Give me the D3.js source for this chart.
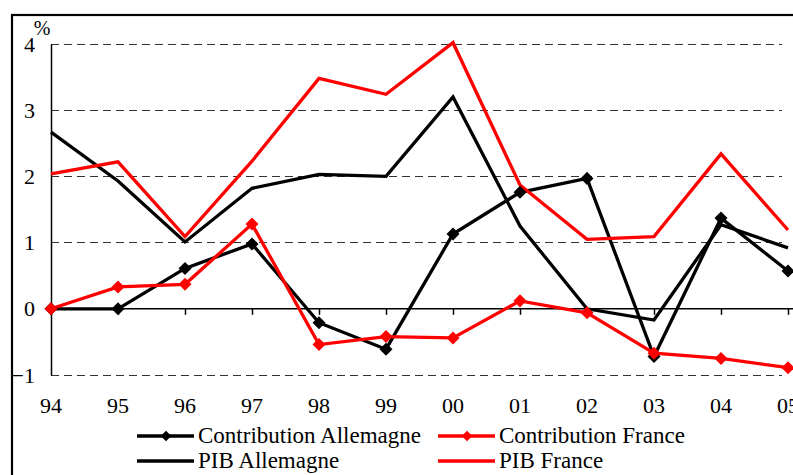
<!DOCTYPE html>
<html>
<head>
<meta charset="utf-8">
<script src="https://cdn.jsdelivr.net/npm/d3@7"></script>
<style>
  html, body { margin: 0; padding: 0; background: #fff; }
  svg { display: block; }
  text { font-family: "Liberation Serif", "Times New Roman", serif; fill: #000; }
</style>
</head>
<body>
<svg id="chart" width="793" height="475"></svg>
<script>
const years = ["94","95","96","97","98","99","00","01","02","03","04","05"];
const yTicks = [-1, 0, 1, 2, 3, 4];
const contribAllemagne = [0.0, 0.0, 0.61, 0.98, -0.21, -0.61, 1.13, 1.76, 1.97, -0.72, 1.37, 0.57];
const contribFrance    = [0.0, 0.33, 0.37, 1.28, -0.54, -0.42, -0.44, 0.12, -0.06, -0.67, -0.75, -0.89];
const pibAllemagne     = [2.67, 1.93, 1.01, 1.82, 2.03, 2.0, 3.2, 1.25, 0.0, -0.17, 1.27, 0.92];
const pibFrance        = [2.04, 2.22, 1.09, 2.23, 3.48, 3.24, 4.02, 1.87, 1.05, 1.09, 2.34, 1.19];

const series = [
  { name: "Contribution Allemagne", values: contribAllemagne, color: "#000000", marker: true },
  { name: "Contribution France", values: contribFrance, color: "#ff0000", marker: true },
  { name: "PIB Allemagne", values: pibAllemagne, color: "#000000", marker: false },
  { name: "PIB France", values: pibFrance, color: "#ff0000", marker: false }
];

const FONT = "Liberation Serif";
const svg = d3.select("#chart");
const x = d3.scaleLinear().domain([0, years.length - 1]).range([51, 788]);
const y = d3.scaleLinear().domain([-1, 4]).range([375, 44]);
const plotRight = 782;

// outer frame
svg.append("rect").attr("x", 12).attr("y", 15).attr("width", 800).attr("height", 500)
  .attr("fill", "none").attr("stroke", "#000").attr("stroke-width", 2.2);

// gridlines
svg.append("g").selectAll("line").data(yTicks.filter(v => v !== 0)).join("line")
  .attr("x1", x(0)).attr("x2", plotRight)
  .attr("y1", d => y(d)).attr("y2", d => y(d))
  .attr("stroke", "#333").attr("stroke-width", 1).attr("stroke-dasharray", "8,5")
  .attr("shape-rendering", "crispEdges");

// y axis
const yAxis = d3.axisLeft(y).tickValues(yTicks).tickSize(0).tickPadding(16).tickFormat(d3.format("d"));
const gy = svg.append("g").attr("transform", `translate(${x(0)},0)`).call(yAxis)
  .attr("font-family", FONT);
gy.select(".domain").attr("stroke", "#000").attr("stroke-width", 1.5);
gy.selectAll("text").attr("font-family", FONT).style("font-size", "22px").attr("fill", "#000");

// percent sign
svg.append("text").attr("x", 42).attr("y", 35).attr("text-anchor", "middle")
  .attr("font-family", FONT).style("font-size", "20px").text("%");

// x axis at zero
const xAxis = d3.axisBottom(x).tickValues(d3.range(years.length)).tickSize(6).tickSizeOuter(0).tickFormat(() => "");
const gx = svg.append("g").attr("transform", `translate(0,${y(0)})`).call(xAxis);
gx.select(".domain").attr("stroke", "#000").attr("stroke-width", 1.5).attr("d", `M${x(0)},0H800`);
gx.selectAll(".tick line").attr("stroke", "#000").attr("stroke-width", 1.5);

// x labels
svg.append("g").selectAll("text").data(years).join("text")
  .attr("x", (d, i) => x(i)).attr("y", 413).attr("text-anchor", "middle")
  .attr("font-family", FONT).style("font-size", "22px").text(d => d);

// lines
const line = d3.line().x((d, i) => x(i)).y(d => y(d));
series.forEach(s => {
  svg.append("path").datum(s.values).attr("d", line)
    .attr("fill", "none").attr("stroke", s.color).attr("stroke-width", 3.3)
    .attr("stroke-linejoin", "miter");
});

// markers
const diamond = d3.symbol().type(d3.symbolSquare).size(85);
series.filter(s => s.marker).forEach(s => {
  svg.append("g").selectAll("path").data(s.values).join("path")
    .attr("d", diamond)
    .attr("transform", (d, i) => `translate(${x(i)},${y(d)}) rotate(45)`)
    .attr("fill", s.color);
});

// legend
const legendPos = [
  { lx: 137, ty: 436 }, { lx: 438, ty: 436 },
  { lx: 137, ty: 461 }, { lx: 438, ty: 461 }
];
const legendDiamond = d3.symbol().type(d3.symbolSquare).size(55);
series.forEach((s, i) => {
  const p = legendPos[i];
  const g = svg.append("g");
  g.append("line").attr("x1", p.lx).attr("x2", p.lx + 57).attr("y1", p.ty).attr("y2", p.ty)
    .attr("stroke", s.color).attr("stroke-width", 3.3);
  if (s.marker) {
    g.append("path").attr("d", legendDiamond)
      .attr("transform", `translate(${p.lx + 29},${p.ty}) rotate(45)`).attr("fill", s.color);
  }
  g.append("text").attr("x", p.lx + 61).attr("y", p.ty + 6.5)
    .attr("font-family", FONT).style("font-size", "23px").text(s.name);
});
</script>
</body>
</html>
